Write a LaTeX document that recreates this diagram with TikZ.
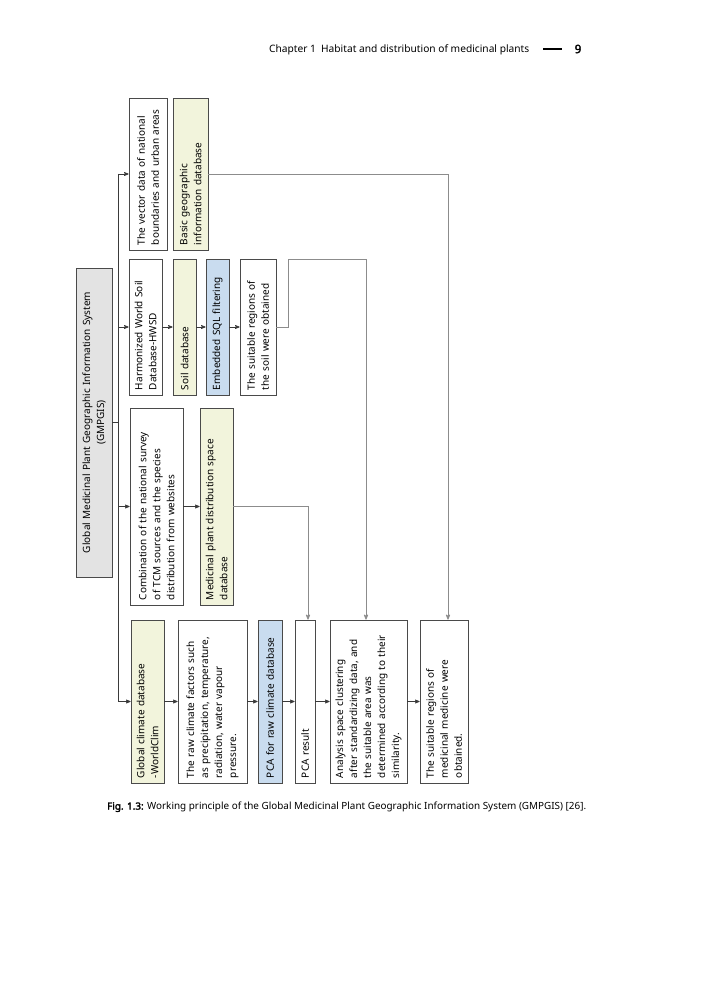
\documentclass[tikz,border=0pt]{standalone}
\usepackage{fontspec}
\setmainfont{Noto Sans}[AutoFakeBold=2.5]
\usetikzlibrary{arrows}
\definecolor{boxline}{HTML}{4A4A4A}
\definecolor{linkgray}{HTML}{8C8C8C}
\definecolor{arrowdark}{HTML}{3A3A3A}
\definecolor{dbyellow}{HTML}{F2F4DC}
\definecolor{sqlblue}{HTML}{C9DCEF}
\definecolor{titlegray}{HTML}{E3E3E3}
\tikzset{
    >=stealth', % small filled arrow heads
    box/.style={draw=boxline, line width=0.8pt, rotate=90, inner xsep=5pt, inner ysep=2pt, align=left, font=\fontsize{10}{14}\selectfont}, % every rotated box
    dbbox/.style={box, fill=dbyellow}, % database boxes
    sqlbox/.style={box, fill=sqlblue}, % processing boxes
    link/.style={draw=linkgray, line width=0.8pt}, % long connectors
    arr/.style={draw=arrowdark, line width=0.7pt, ->} % short arrows
}

\begin{document}
\begin{tikzpicture}[x=1pt, y=1pt]
    \useasboundingbox[fill=white] (0,0) rectangle (708,-1000);

    % Running head
    \node[anchor=west, inner sep=0pt, font=\fontsize{10.2}{12}\selectfont] (runhead) at (269,-50) {Chapter 1\enspace Habitat and distribution of medicinal plants};
    \node[inner sep=0pt, font=\bfseries\fontsize{11.5}{13}\selectfont] (pagenum) at (578,-49) {9};
    \draw[line width=2.4pt] ([xshift=-35pt]pagenum.center) -- ([xshift=-16pt]pagenum.center);

    % Title
    \node[box, fill=titlegray, align=center, minimum width=309pt, text width=299pt, minimum height=36pt] (title) at (94,-422.5) {Global Medicinal Plant Geographic Information System\\(GMPGIS)};

    % Row of the geographic data
    \node[box, minimum width=152pt, text width=142pt, minimum height=38pt] (vec) at (148,-174) {The vector data of national\\boundaries and urban areas};
    \node[dbbox, minimum width=152pt, text width=142pt, minimum height=35pt] (bgi) at (190.5,-174) {Basic geographic\\information database};

    % Row of the soil data
    \node[box, minimum width=136pt, text width=126pt, minimum height=33pt] (hwsd) at (145.5,-327) {Harmonized World Soil\\Database-HWSD};
    \node[dbbox, minimum width=136pt, text width=126pt, minimum height=23pt] (soil) at (184.5,-327) {Soil database};
    \node[sqlbox, minimum width=136pt, text width=126pt, minimum height=23pt] (sql) at (217.5,-327) {Embedded SQL filtering};
    \node[box, minimum width=136pt, text width=126pt, minimum height=36pt] (soilreg) at (258,-327) {The suitable regions of\\the soil were obtained};

    % Row of the species data
    \node[box, minimum width=197pt, text width=187pt, minimum height=53pt] (comb) at (156.5,-506.5) {Combination of the national survey\\of TCM sources and the species\\distribution from websites};
    \node[dbbox, minimum width=197pt, text width=187pt, minimum height=33pt] (mpd) at (216.5,-506.5) {Medicinal plant distribution space\\database};

    % Row of the climate data
    \node[dbbox, minimum width=163pt, text width=153pt, minimum height=33pt] (wclim) at (147.5,-701.5) {Global climate database\\-WorldClim};
    \node[box, minimum width=163pt, text width=153pt, minimum height=69pt] (rawclim) at (212.5,-701.5) {The raw climate factors such\\as precipitation, temperature,\\radiation, water vapour\\pressure.};
    \node[sqlbox, minimum width=163pt, text width=153pt, minimum height=24pt] (pca) at (270,-701.5) {PCA for raw climate database};
    \node[box, minimum width=163pt, text width=153pt, minimum height=20pt] (pcares) at (305,-701.5) {PCA result};
    \node[box, minimum width=163pt, text width=153pt, minimum height=77pt] (cluster) at (368.5,-701.5) {Analysis space clustering\\after standardizing data, and\\the suitable area was\\determined according to their\\similarity.};
    \node[box, minimum width=163pt, text width=153pt, minimum height=48pt] (medreg) at (444,-701.5) {The suitable regions of\\medicinal medicine were\\obtained.};

    % Trunk
    \coordinate (ttop) at (118,-174);
    \coordinate (tbot) at (118,-701.5);
    \draw[link, draw=arrowdark] (ttop) -- (tbot);
    \draw[link, draw=arrowdark] (title.south) -- (title.south -| ttop);
    \draw[arr] (ttop) -- (vec.north);
    \draw[arr] (ttop |- hwsd.north) -- (hwsd.north);
    \draw[arr] (ttop |- comb.north) -- (comb.north);
    \draw[arr] (tbot) -- (wclim.north);

    % Chains
    \draw[arr] (hwsd.south) -- (soil.north);
    \draw[arr] (soil.south) -- (sql.north);
    \draw[arr] (sql.south) -- (soilreg.north);
    \draw[arr] (comb.south) -- (mpd.north);
    \draw[arr] (wclim.south) -- (rawclim.north);
    \draw[arr] (rawclim.south) -- (pca.north);
    \draw[arr] (pca.south) -- (pcares.north);
    \draw[arr] (pcares.south) -- (cluster.north);
    \draw[arr] (cluster.south) -- (medreg.north);

    % Long connectors
    \coordinate (soilbend) at (366,-259);
    \draw[link, ->] (mpd.south) -| ([xshift=3pt]pcares.east);
    \draw[link, ->] (soilreg.south) -- ++(12,0) |- (soilbend) -- (soilbend |- cluster.east);
    \draw[link, ->] (bgi.south) -| ([xshift=4pt]medreg.east);

    % Caption
    \node[anchor=west, inner sep=0pt, font=\fontsize{9.9}{12}\selectfont] (caption) at (107,-807) {\textbf{Fig. 1.3:} Working principle of the Global Medicinal Plant Geographic Information System (GMPGIS) [26].};
\end{tikzpicture}
\end{document}
